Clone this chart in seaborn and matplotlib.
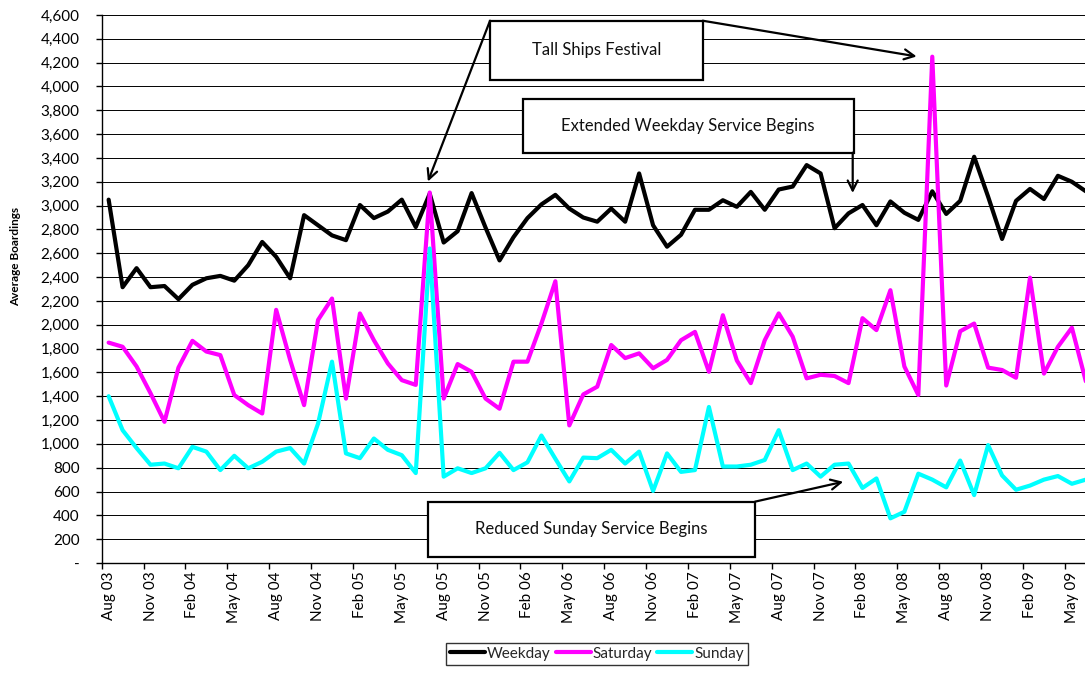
# load libraries
import numpy as np
import pandas as pd
import seaborn as sns
import matplotlib.pyplot as plt
from matplotlib.patches import Rectangle
from matplotlib.ticker import FuncFormatter

# average boardings per month, Aug 03 - Jun 09
weekday = [3050, 2315, 2475, 2315, 2325, 2215, 2335, 2390, 2410, 2370, 2500, 2695,
           2570, 2390, 2920, 2835, 2750, 2710, 3005, 2895, 2950, 3050, 2820, 3100,
           2690, 2785, 3105, 2815, 2540, 2735, 2895, 3010, 3090, 2975, 2900, 2865,
           2975, 2865, 3270, 2835, 2655, 2755, 2965, 2965, 3045, 2990, 3115, 2965,
           3135, 3160, 3340, 3270, 2810, 2935, 3005, 2835, 3035, 2940, 2880, 3120,
           2930, 3040, 3410, 3075, 2720, 3040, 3140, 3055, 3250, 3200, 3120]
saturday = [1850, 1815, 1650, 1425, 1185, 1640, 1865, 1775, 1745, 1410, 1325, 1255,
            2125, 1705, 1325, 2040, 2220, 1380, 2095, 1870, 1675, 1535, 1495, 3110,
            1380, 1670, 1605, 1380, 1295, 1690, 1690, 2010, 2365, 1155, 1415, 1480,
            1830, 1720, 1760, 1635, 1705, 1870, 1940, 1605, 2080, 1700, 1510, 1870,
            2095, 1900, 1550, 1580, 1570, 1510, 2055, 1955, 2290, 1650, 1410, 4250,
            1490, 1945, 2010, 1640, 1620, 1555, 2395, 1590, 1815, 1975, 1525]
sunday = [1400, 1115, 965, 825, 835, 795, 975, 935, 780, 900, 795, 850,
          935, 965, 835, 1170, 1690, 920, 880, 1045, 950, 905, 755, 2640,
          725, 795, 755, 795, 925, 780, 845, 1070, 875, 685, 885, 880,
          950, 835, 935, 605, 920, 765, 780, 1310, 810, 810, 825, 865,
          1115, 780, 835, 725, 825, 835, 630, 710, 375, 430, 750, 700,
          635, 860, 570, 990, 735, 615, 650, 700, 730, 665, 700]

# x axis labels (every third month)
tick_labels = ['Aug 03', 'Nov 03', 'Feb 04', 'May 04', 'Aug 04', 'Nov 04',
               'Feb 05', 'May 05', 'Aug 05', 'Nov 05', 'Feb 06', 'May 06',
               'Aug 06', 'Nov 06', 'Feb 07', 'May 07', 'Aug 07', 'Nov 07',
               'Feb 08', 'May 08', 'Aug 08', 'Nov 08', 'Feb 09', 'May 09']

# combine series for graphing
df = pd.DataFrame({'month': np.arange(len(weekday)),
                   'Weekday': weekday, 'Saturday': saturday, 'Sunday': sunday})
long_df = pd.melt(df, id_vars='month', var_name='day_type', value_name='boardings')

sns.set_theme(style='white')
plt.rcParams['font.family'] = ['Lato', 'DejaVu Sans']

fig = plt.figure(figsize=(10.85, 6.75), dpi=100)
ax = fig.add_axes([0.0937, 0.1659, 0.9063, 0.8119])

# plot
sns.lineplot(data=long_df, x='month', y='boardings', hue='day_type',
             palette=['black', '#ff00ff', '#00ffff'], linewidth=3, ax=ax)
for line in ax.lines:
    line.set_solid_joinstyle('round')
    line.set_solid_capstyle('round')

# axes
ax.set_xlim(-0.5, 69.94)
ax.set_ylim(0, 4600)
ax.set_yticks(np.arange(0, 4601, 200))
ax.yaxis.set_major_formatter(FuncFormatter(lambda v, p: '-' if v == 0 else f'{v:,.0f}'))
ax.set_xticks(np.arange(-0.5, 70, 3))
ax.set_xticks(np.arange(0, 70, 3), minor=True)
ax.set_xticklabels([])
ax.set_xticklabels(tick_labels, minor=True, rotation=90)
ax.tick_params(axis='x', which='major', direction='out', length=4, width=1, color='black', bottom=True)
ax.tick_params(axis='x', which='minor', length=0, pad=6, labelsize=11, labelcolor='black')
ax.tick_params(axis='y', direction='out', length=4, width=1, color='black', left=True,
               pad=12, labelsize=11, labelcolor='black')
ax.set_xlabel('')
ax.set_ylabel('Average Boardings', fontsize=8.5, fontweight='bold', color='black', va='center')
ax.yaxis.set_label_coords(-0.0877, 0.56)

ax.yaxis.grid(True, color='black', linewidth=0.7)
ax.set_axisbelow(True)
for side in ['top', 'right']:
    ax.spines[side].set_visible(False)
for side in ['left', 'bottom']:
    ax.spines[side].set_color('black')
    ax.spines[side].set_linewidth(1)

# annotation boxes
def note_box(x0, x1, y0, y1, text, tx, ty):
    ax.add_patch(Rectangle((x0, y0), x1 - x0, y1 - y0, facecolor='white',
                           edgecolor='black', linewidth=1.6, zorder=5))
    ax.text(tx, ty, text, ha='center', va='center', fontsize=12, color='#111111', zorder=6)

def arrow(start, tip):
    ax.annotate('', xy=tip, xytext=start,
                arrowprops=dict(arrowstyle='->', color='black', lw=1.6,
                                shrinkA=0, shrinkB=0, mutation_scale=18), zorder=6)

note_box(27.32, 42.55, 4054, 4552, 'Tall Ships Festival', 34.96, 4306)
arrow((27.32, 4552), (22.87, 3202))
arrow((42.55, 4552), (57.88, 4252))

note_box(29.70, 53.39, 3444, 3892, 'Extended Weekday Service Begins', 41.5, 3668)
arrow((53.30, 3444), (53.30, 3106))

note_box(22.89, 46.30, 53, 515, 'Reduced Sunday Service Begins', 34.6, 283)
arrow((46.30, 515), (52.62, 682))

# legend under the chart
handles, labels = ax.get_legend_handles_labels()
ax.legend(handles, labels, loc='upper center', bbox_to_anchor=(0.5502, 0.0474),
          bbox_transform=fig.transFigure, ncol=3, frameon=True, fancybox=False,
          edgecolor='black', borderaxespad=0, handlelength=2.3, handletextpad=0.15,
          columnspacing=0.3, borderpad=0.25, fontsize=11)
ax.get_legend().get_frame().set_linewidth(1)

plt.savefig('out.png', dpi=100)
